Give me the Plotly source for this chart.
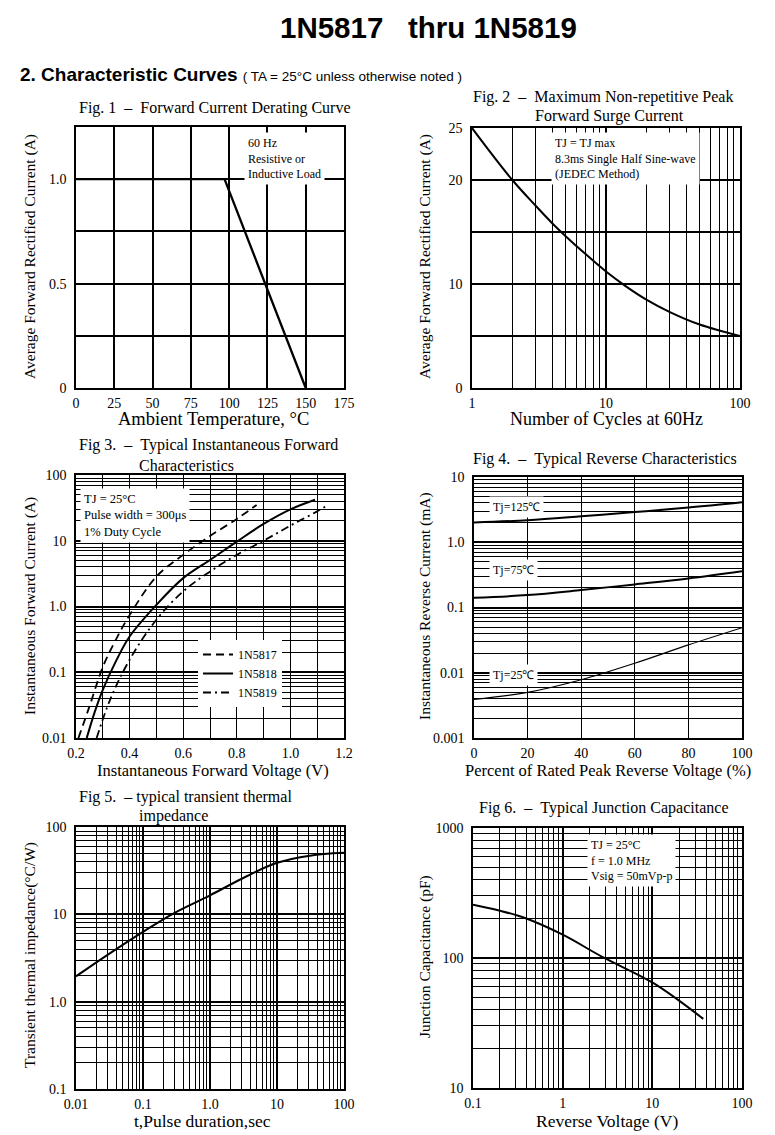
import plotly.graph_objects as go

W, H = 775, 1135
OFF = 8  # the page places the figure 8 px from the top-left corner
SERIF = "Liberation Serif"
SANS = "Liberation Sans"

# ---------------- data ----------------
# Fig.1  Forward current derating
fig1_temp_c = [0, 97, 150]
fig1_current_a = [1.0, 1.0, 0.0]
fig1_xticks = [0, 25, 50, 75, 100, 125, 150, 175]
fig1_yticks = [0, 0.5, 1.0]
fig1_ytext = ["0", "0.5", "1.0"]

# Fig.2  Max non-repetitive peak forward surge current
fig2_cycles = [1, 2, 3, 4, 5, 7, 10, 14, 20, 30, 50, 100]
fig2_surge_a = [25, 20, 17.5, 15.8, 14.6, 12.9, 11.2, 9.8, 8.5, 7.3, 6.1, 5.0]
fig2_xticks = [1, 10, 100]
fig2_xtext = ["1", "10", "100"]
fig2_yticks = [0, 10, 20, 25]
fig2_ytext = ["0", "10", "20", "25"]

# Fig.3  Typical instantaneous forward characteristics
fig3_v_1n5817 = [0.209, 0.25, 0.30, 0.35, 0.40, 0.50, 0.60, 0.70, 0.80, 0.874]
fig3_i_1n5817 = [0.01, 0.03, 0.12, 0.32, 0.74, 2.85, 6.1, 11.8, 21.5, 35]
fig3_v_1n5818 = [0.24, 0.27, 0.30, 0.35, 0.40, 0.50, 0.60, 0.70, 0.80, 0.90, 1.0, 1.092]
fig3_i_1n5818 = [0.01, 0.025, 0.054, 0.15, 0.35, 1.06, 2.7, 5.1, 9.7, 18, 30, 42]
fig3_v_1n5819 = [0.277, 0.327, 0.40, 0.50, 0.60, 0.70, 0.80, 0.90, 1.0, 1.1, 1.141]
fig3_i_1n5819 = [0.01, 0.038, 0.155, 0.63, 1.7, 3.4, 6.1, 10, 17, 28, 35]
fig3_xticks = [0.2, 0.4, 0.6, 0.8, 1.0, 1.2]
fig3_xtext = ["0.2", "0.4", "0.6", "0.8", "1.0", "1.2"]
fig3_yticks = [0.01, 0.1, 1, 10, 100]
fig3_ytext = ["0.01", "0.1", "1.0", "10", "100"]

# Fig.4  Typical reverse characteristics
fig4_pct = [0, 20, 40, 60, 80, 100]
fig4_ir_125 = [2.0, 2.18, 2.5, 2.9, 3.4, 4.1]
fig4_ir_75 = [0.141, 0.155, 0.185, 0.226, 0.279, 0.36]
fig4_ir_25 = [0.0039, 0.005, 0.0078, 0.014, 0.0267, 0.049]
fig4_xticks = [0, 20, 40, 60, 80, 100]
fig4_yticks = [0.001, 0.01, 0.1, 1, 10]
fig4_ytext = ["0.001", "0.01", "0.1", "1.0", "10"]

# Fig.5  Typical transient thermal impedance
fig5_t_s = [0.01, 0.0257, 0.1, 0.283, 1.0, 3.53, 10, 31, 100]
fig5_z_cw = [1.95, 3.2, 6.3, 10.2, 16.5, 27.3, 38.9, 47, 50.6]
fig5_xticks = [0.01, 0.1, 1, 10, 100]
fig5_xtext = ["0.01", "0.1", "1.0", "10", "100"]
fig5_yticks = [0.1, 1, 10, 100]
fig5_ytext = ["0.1", "1.0", "10", "100"]

# Fig.6  Typical junction capacitance
fig6_vr = [0.1, 0.195, 0.38, 1.0, 2.84, 10.3, 37]
fig6_cj_pf = [257, 232, 203, 151, 101, 64, 34]
fig6_xticks = [0.1, 1, 10, 100]
fig6_xtext = ["0.1", "1", "10", "100"]
fig6_yticks = [10, 100, 1000]
fig6_ytext = ["10", "100", "1000"]


def log_minors(lo, hi):
    return [m * 10 ** e for e in range(lo, hi) for m in range(2, 10)]


def px_x(a, b):
    return [(a - OFF) / W, (b - OFF) / W]


def px_y(top, bottom):
    return [1 - (bottom - OFF) / H, 1 - (top - OFF) / H]


def axis(dom, rng, typ, tickvals, ticktext, anchor, minor_vals=None, gw=1.3, mgw=1.0,
         standoff=5):
    d = dict(domain=dom, range=rng, type=typ, tickmode="array", tickvals=tickvals,
             ticktext=ticktext, showgrid=True, gridcolor="black", gridwidth=gw,
             showline=True, mirror=True, linecolor="black", linewidth=1.6,
             ticks="", zeroline=False, anchor=anchor, ticklabelstandoff=standoff,
             automargin=False,
             tickfont=dict(family=SERIF, size=14, color="black"), fixedrange=True)
    if minor_vals:
        d["minor"] = dict(tickmode="array", tickvals=minor_vals, showgrid=True,
                          gridcolor="black", gridwidth=mgw, ticks="")
    return d


fig = go.Figure()

LINE = dict(color="black", width=2)

fig.add_trace(go.Scatter(x=fig1_temp_c, y=fig1_current_a, xaxis="x", yaxis="y",
                         mode="lines", line=dict(color="black", width=2.3), showlegend=False))
fig.add_trace(go.Scatter(x=fig2_cycles, y=fig2_surge_a, xaxis="x2", yaxis="y2",
                         mode="lines", line=dict(LINE, shape="spline"), showlegend=False))
fig.add_trace(go.Scatter(x=fig3_v_1n5817, y=fig3_i_1n5817, xaxis="x3", yaxis="y3",
                         mode="lines", name="1N5817",
                         line=dict(color="black", width=1.8, dash="8px,5px", shape="spline")))
fig.add_trace(go.Scatter(x=fig3_v_1n5818, y=fig3_i_1n5818, xaxis="x3", yaxis="y3",
                         mode="lines", name="1N5818",
                         line=dict(color="black", width=2, shape="spline")))
fig.add_trace(go.Scatter(x=fig3_v_1n5819, y=fig3_i_1n5819, xaxis="x3", yaxis="y3",
                         mode="lines", name="1N5819",
                         line=dict(color="black", width=1.8, dash="8px,4px,2px,4px", shape="spline")))
for ys, w in ((fig4_ir_125, 2), (fig4_ir_75, 2), (fig4_ir_25, 1.2)):
    fig.add_trace(go.Scatter(x=fig4_pct, y=ys, xaxis="x4", yaxis="y4", mode="lines",
                             line=dict(color="black", width=w, shape="spline"), showlegend=False))
fig.add_trace(go.Scatter(x=fig5_t_s, y=fig5_z_cw, xaxis="x5", yaxis="y5", mode="lines",
                         line=dict(LINE, shape="spline"), showlegend=False))
fig.add_trace(go.Scatter(x=fig6_vr, y=fig6_cj_pf, xaxis="x6", yaxis="y6", mode="lines",
                         line=dict(LINE, shape="spline"), showlegend=False))

XS = 1  # x tick label standoff
layout = dict(
    width=W, height=H, margin=dict(l=0, r=0, t=0, b=0, pad=0, autoexpand=False),
    paper_bgcolor="white", plot_bgcolor="white",
    font=dict(family=SERIF, color="black"),
    xaxis=axis(px_x(76, 344), [0, 175], "linear", fig1_xticks, [str(v) for v in fig1_xticks], "y",
               gw=1.8, standoff=XS),
    yaxis=axis(px_y(127, 388), [0, 1.25], "linear", fig1_yticks, fig1_ytext, "x", [0.25, 0.75], gw=1.8, mgw=1.8),
    xaxis2=axis(px_x(472, 740), [0, 2], "log", fig2_xticks, fig2_xtext, "y2", log_minors(0, 2),
                gw=1.6, mgw=1.4, standoff=XS),
    yaxis2=axis(px_y(128, 388), [0, 25], "linear", fig2_yticks, fig2_ytext, "x2", [5, 15], gw=1.8, mgw=1.8),
    xaxis3=axis(px_x(76, 344), [0.2, 1.2], "linear", fig3_xticks, fig3_xtext, "y3",
                [0.3, 0.5, 0.7, 0.9, 1.1], gw=1.4, mgw=1.4, standoff=XS),
    yaxis3=axis(px_y(475, 738), [-2, 2], "log", fig3_yticks, fig3_ytext, "x3", log_minors(-2, 2), gw=2, mgw=1.1),
    xaxis4=axis(px_x(474, 742), [0, 100], "linear", fig4_xticks, [str(v) for v in fig4_xticks], "y4",
                gw=1.4, standoff=XS),
    yaxis4=axis(px_y(477, 738), [-3, 1], "log", fig4_yticks, fig4_ytext, "x4", log_minors(-3, 1), gw=2, mgw=1.1),
    xaxis5=axis(px_x(76, 344), [-2, 2], "log", fig5_xticks, fig5_xtext, "y5", log_minors(-2, 2),
                gw=2, mgw=1.1, standoff=XS),
    yaxis5=axis(px_y(827, 1089), [-1, 2], "log", fig5_yticks, fig5_ytext, "x5", log_minors(-1, 2), gw=2, mgw=1.1),
    xaxis6=axis(px_x(473, 742), [-1, 2], "log", fig6_xticks, fig6_xtext, "y6", log_minors(-1, 2),
                gw=1.6, mgw=1.2, standoff=XS),
    yaxis6=axis(px_y(828, 1088), [1, 3], "log", fig6_yticks, fig6_ytext, "x6", log_minors(1, 3), gw=2, mgw=1.2),
    legend=dict(x=(198 - OFF) / W, y=1 - (640 - OFF) / H, xanchor="left", yanchor="top",
                bgcolor="white", font=dict(family=SERIF, size=12, color="black"),
                itemwidth=30, tracegroupgap=0),
)
fig.update_layout(**layout)

NB = "\u00a0"


def ann(text, x, y, size, xanchor="center", yanchor="middle", angle=0, family=SERIF,
        bg=None, align="center", pad=1):
    d = dict(text=text, x=(x - OFF) / W, y=1 - (y - OFF) / H, xref="paper", yref="paper",
             showarrow=False, xanchor=xanchor, yanchor=yanchor, textangle=angle, align=align,
             font=dict(family=family, size=size, color="black"), borderpad=pad)
    if bg:
        d["bgcolor"] = bg
    fig.add_annotation(**d)


# headings
ann("<b>1N5817" + NB * 3 + "thru 1N5819</b>", 428, 27, 29.5, family=SANS)
ann("<b>2. Characteristic Curves</b> <span style='font-size:13.5px'>( TA = 25°C unless otherwise noted )</span>",
    18, 75, 19, xanchor="left", family=SANS)

dash = NB * 2 + "–" + NB * 2
# figure titles
ann("Fig. 1" + dash + "Forward Current Derating Curve", 77, 108, 16, xanchor="left")
ann("Fig. 2" + dash + "Maximum Non-repetitive Peak", 471, 97, 16, xanchor="left")
ann("Forward Surge Current", 533, 116, 16, xanchor="left")
ann("Fig 3." + dash + "Typical Instantaneous Forward", 77, 445, 16, xanchor="left")
ann("Characteristics", 137, 465, 16, xanchor="left")
ann("Fig 4." + dash + "Typical Reverse Characteristics", 471, 459, 16, xanchor="left")
ann("Fig 5." + NB * 2 + "– typical transient thermal", 77, 797, 16, xanchor="left")
ann("impedance", 137, 816, 16, xanchor="left")
ann("Fig 6." + dash + "Typical Junction Capacitance", 477, 808, 16, xanchor="left")

# x axis titles
ann("Ambient Temperature, °C", 213, 419, 18.5)
ann("Number of Cycles at 60Hz", 606, 419, 18)
ann("Instantaneous Forward Voltage (V)", 213, 770, 16.5)
ann("Percent of Rated Peak Reverse Voltage (%)", 608, 770, 16.5)
ann("t,Pulse duration,sec", 202, 1121, 17.5)
ann("Reverse Voltage (V)", 607, 1121, 17.5)

# y axis titles
ann("Average Forward Rectified Current (A)", 30, 257, 15.5, angle=-90)
ann("Average Forward Rectified Current (A)", 425, 257, 15.5, angle=-90)
ann("Instantaneous Forward Current (A)", 30, 606, 15.5, angle=-90)
ann("Instantaneous Reverse Current (mA)", 425, 606, 15.5, angle=-90)
ann("Transient thermal impedance(°C/W)", 30, 955, 15.5, angle=-90)
ann("Junction Capacitance (pF)", 425, 957, 15.5, angle=-90)

# in-plot notes
ann("60 Hz<br>Resistive or<br>Inductive Load", 244, 132, 12, xanchor="left", yanchor="top",
    bg="white", align="left", pad=3)
ann("TJ = TJ max<br>8.3ms Single Half Sine-wave<br>(JEDEC Method)", 551, 132, 12,
    xanchor="left", yanchor="top", bg="white", align="left", pad=3)
ann("TJ = 25°C<br>Pulse width = 300μs<br>1% Duty Cycle", 80, 488, 12.5,
    xanchor="left", yanchor="top", bg="white", align="left", pad=3)
ann("Tj=125℃", 489, 507, 12, xanchor="left", bg="white", pad=3)
ann("Tj=75℃", 489, 570, 12, xanchor="left", bg="white", pad=3)
ann("Tj=25℃", 489, 675, 12, xanchor="left", bg="white", pad=3)
ann("TJ = 25°C<br>f = 1.0 MHz<br>Vsig = 50mVp-p", 587, 834, 12,
    xanchor="left", yanchor="top", bg="white", align="left", pad=3)

fig.write_html("out.html")
